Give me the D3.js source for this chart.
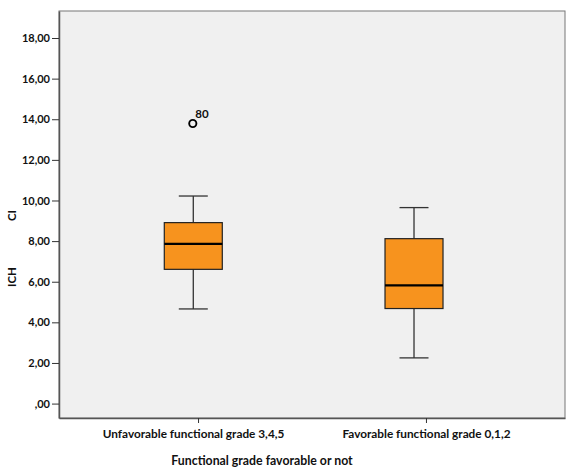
<!DOCTYPE html>
<html><head><meta charset="utf-8">
<script src="https://cdn.jsdelivr.net/npm/d3@7"></script>
<style>body{margin:0;background:#fff}svg{display:block}text{font-family:Lato,"Liberation Sans",sans-serif;font-weight:bold;fill:#111}</style>
</head><body><svg id="c" width="566" height="471"></svg>
<script>
const categories = ["Unfavorable functional grade 3,4,5", "Favorable functional grade 0,1,2"];
const whiskerLow = [4.66, 2.25];
const q1 = [6.61, 4.68];
const median = [7.86, 5.82];
const q3 = [8.91, 8.12];
const whiskerHigh = [10.22, 9.65];
const outliers = [{cat: 0, value: 13.79, label: "80"}];
const yTicks = [0, 2, 4, 6, 8, 10, 12, 14, 16, 18];
const yTitle = ["ICH", "CI"];
const xTitle = "Functional grade favorable or not";

const W = 566, H = 471;
const m = {l: 59, r: 1, t: 11, b: 53};
const iw = W - m.l - m.r, ih = H - m.t - m.b;
const svg = d3.select("#c");
const g = svg.append("g").attr("transform", `translate(${m.l},${m.t})`);

const y = d3.scaleLinear().domain([-0.71, 19.33]).range([ih, 0]);
const x = d3.scalePoint().domain(categories).range([0, iw]).padding(0.61);
const xb = d3.scalePoint().domain(categories).range([iw * 0.2654, iw * 0.7016]);
const fmt = v => v === 0 ? ",00" : d3.format(".2f")(v).replace(".", ",");
const FONT = "Lato, 'Liberation Sans', sans-serif";

g.append("rect").attr("width", iw).attr("height", ih).attr("fill", "#f0f0f0")
  .attr("stroke", "#777").attr("stroke-width", 1);

const ya = g.append("g").call(d3.axisLeft(y).tickValues(yTicks).tickFormat(fmt).tickSize(7).tickSizeOuter(0).tickPadding(2));
ya.select(".domain").attr("stroke", "#555").attr("stroke-width", 1.5);
ya.selectAll(".tick line").attr("stroke", "#333");
ya.selectAll("text").attr("font-size", 11).attr("fill", "#111").attr("font-family", FONT).attr("font-weight", "bold");

const xa = g.append("g").attr("transform", `translate(0,${ih})`).call(d3.axisBottom(x).tickSize(5).tickSizeOuter(0).tickPadding(7));
xa.select(".domain").attr("stroke", "#555").attr("stroke-width", 1.5);
xa.selectAll(".tick line").attr("stroke", "#333");
xa.selectAll("text").attr("font-size", 11.8).attr("fill", "#111").attr("font-family", FONT).attr("font-weight", "bold")
  .attr("dx", (d, i) => i === 0 ? -5 : 0);

const bw = 58, cw = 29;
const boxes = categories.map((c, i) => ({c, i}));
const bg = g.selectAll(".box").data(boxes).enter().append("g");
const cx = d => xb(d.c);
bg.append("line").attr("x1", cx).attr("x2", cx)
  .attr("y1", d => y(whiskerHigh[d.i])).attr("y2", d => y(q3[d.i])).attr("stroke", "#333").attr("stroke-width", 1.3);
bg.append("line").attr("x1", cx).attr("x2", cx)
  .attr("y1", d => y(q1[d.i])).attr("y2", d => y(whiskerLow[d.i])).attr("stroke", "#333").attr("stroke-width", 1.3);
bg.append("line").attr("x1", d => cx(d) - cw / 2).attr("x2", d => cx(d) + cw / 2)
  .attr("y1", d => y(whiskerHigh[d.i])).attr("y2", d => y(whiskerHigh[d.i])).attr("stroke", "#333").attr("stroke-width", 1.3);
bg.append("line").attr("x1", d => cx(d) - cw / 2).attr("x2", d => cx(d) + cw / 2)
  .attr("y1", d => y(whiskerLow[d.i])).attr("y2", d => y(whiskerLow[d.i])).attr("stroke", "#333").attr("stroke-width", 1.3);
bg.append("rect").attr("x", d => cx(d) - bw / 2).attr("width", bw)
  .attr("y", d => y(q3[d.i])).attr("height", d => y(q1[d.i]) - y(q3[d.i]))
  .attr("fill", "#f7931e").attr("stroke", "#222").attr("stroke-width", 1.2);
bg.append("line").attr("x1", d => cx(d) - bw / 2).attr("x2", d => cx(d) + bw / 2)
  .attr("y1", d => y(median[d.i])).attr("y2", d => y(median[d.i])).attr("stroke", "#000").attr("stroke-width", 2.2);

const og = g.selectAll(".out").data(outliers).enter().append("g");
og.append("circle").attr("cx", d => xb(categories[d.cat]) - 0.5).attr("cy", d => y(d.value)).attr("r", 3.6)
  .attr("fill", "none").attr("stroke", "#000").attr("stroke-width", 1.9);
og.append("text").attr("x", d => xb(categories[d.cat]) + 2).attr("y", d => y(d.value) - 6)
  .attr("font-size", 11.5).text(d => d.label);

svg.append("text").attr("transform", "translate(16,287) rotate(-90)").attr("font-size", 11.5).text(yTitle[0]);
svg.append("text").attr("transform", "translate(16,221) rotate(-90)").attr("font-size", 11.5).text(yTitle[1]);

svg.append("text").attr("x", m.l + iw / 2 - 50).attr("y", 465).attr("text-anchor", "middle").attr("font-size", 12.3).text(xTitle);
</script></body></html>
